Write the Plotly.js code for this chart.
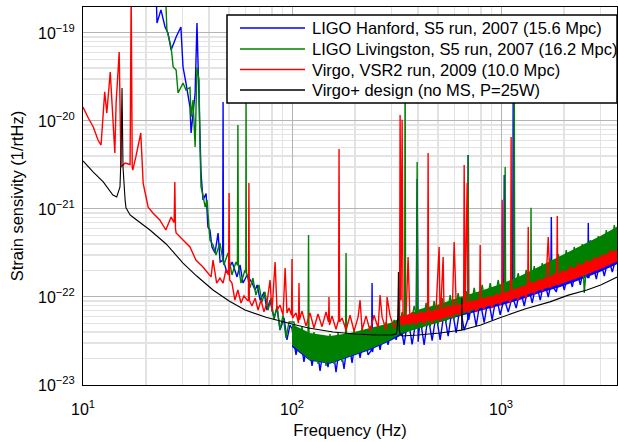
<!DOCTYPE html>
<html><head><meta charset="utf-8">
<script src="https://cdn.plot.ly/plotly-3.0.1.min.js"></script>
<style>html,body{margin:0;padding:0;background:#fff}#chart{width:618px;height:442px}</style>
</head><body><div id="chart"></div>
<script>
// ---- LIGO Hanford, S5 (strain ASD, 1/rtHz) ----
const hanfordFreq = [
 22.3, 22.6, 23.6, 24.7, 25.5, 26.4, 27.9, 29.4, 30.1, 31.1,
 32.5, 32.9, 34.4, 35.1, 35.9, 36.7, 37.5, 38.8, 39.6, 40.5,
 41.4, 42.8, 44.3, 45.3, 46.6, 46.8, 47.0, 48.9, 51.7, 54.6,
 56.4, 58.3, 61.0, 64.4, 66.6, 68.1, 70.4, 73.5, 75.9, 78.5,
 82.0, 84.8, 87.7, 91.6, 94.6, 97.8,
 100, 104.5, 109.2, 114.1, 119.3, 124.7, 130.3, 136.2, 142.3, 148.7,
 155.4, 162.4, 169.8, 177.4, 185.4, 193.8, 202.5, 211.7, 221.2, 231.2,
 240.4, 241.6, 242.8, 252.5, 263.9, 275.8, 288.2, 301.2, 314.8, 329.0,
 343.8, 359.3, 375.5, 392.5, 397.0, 401.5, 410.2, 428.7, 448.0, 468.2,
 489.3, 511.4, 534.5, 558.6, 583.8, 610.1, 637.6, 666.4, 692.7, 696.5,
 700.3, 727.9, 760.7, 795.0, 830.9, 868.3, 907.5, 948.4, 991.2, 1030,
 1036, 1041, 1083, 1137, 1143, 1150, 1182, 1236, 1292, 1350,
 1411, 1474, 1541, 1610, 1683, 1730, 1741, 1752, 1838, 1921,
 2008, 2098, 2193, 2292, 2395, 2503, 2602, 2616, 2630, 2734,
 2858, 2987, 3121, 3262, 3409, 3563, 3650];
const hanfordASD = [
 4e-19, 1.30e-19, 1.83e-19, 1.17e-19, 1.0e-19, 6.4e-20, 9.0e-20, 1.17e-19, 4.1e-20, 2.7e-20,
 1.44e-20, 7.3e-21, 2.08e-20, 1.3e-19, 1.73e-20, 2.57e-21, 1.27e-21, 1.5e-21, 6.25e-22, 5.77e-22,
 3.7e-22, 3.16e-22, 5.33e-22, 2.5e-22, 2.6e-22, 1.64e-20, 2.6e-22, 1.87e-22, 2.5e-22, 1.69e-22,
 2.31e-22, 1.44e-22, 1.78e-22, 1.44e-22, 1.2e-22, 1.37e-22, 9.2e-23, 1.14e-22, 7.1e-23, 9.2e-23,
 5.8e-23, 7.5e-23, 4.2e-23, 5.8e-23, 3.25e-23, 4.8e-23,
 4.4e-23, 2.2e-23, 3.9e-23, 1.83e-23, 3.4e-23, 1.65e-23, 3.2e-23, 1.45e-23, 2.9e-23, 1.6e-23,
 3.25e-23, 1.4e-23, 3.0e-23, 1.52e-23, 3.5e-23, 1.78e-23, 3.6e-23, 2.03e-23, 3.9e-23, 2.2e-23,
 2.5e-23, 1.44e-22, 2.37e-23, 4.3e-23, 2.5e-23, 4.6e-23, 2.85e-23, 4.9e-23, 3.25e-23, 5.2e-23,
 2.85e-23, 5.77e-23, 2.9e-23, 5.5e-23, 2.19e-21, 3.1e-23, 5.8e-23, 2.85e-23, 6.1e-23, 3.2e-23,
 6.4e-23, 3.25e-23, 6.75e-23, 3.6e-23, 7.3e-23, 3.9e-23, 7.9e-23, 4.2e-23, 5.5e-23, 4.11e-21,
 5.5e-23, 8.55e-23, 4.7e-23, 9.0e-23, 5.1e-23, 9.7e-23, 5.5e-23, 1.03e-22, 6.25e-23, 9.2e-23,
 2.43e-21, 9.2e-23, 6.75e-23, 1.05e-22, 1.6e-20, 9.2e-23, 7.5e-23, 1.23e-22, 7.9e-23, 1.33e-22,
 8.55e-23, 1.44e-22, 9.2e-23, 1.56e-22, 1.0e-22, 1.37e-22, 8.1e-22, 1.37e-22, 1.14e-22, 1.83e-22,
 1.2e-22, 1.97e-22, 1.3e-22, 2.14e-22, 1.37e-22, 2.25e-22, 1.64e-22, 6.93e-22, 1.64e-22, 2.5e-22,
 1.6e-22, 2.63e-22, 1.73e-22, 2.77e-22, 1.92e-22, 2.92e-22, 2.25e-22];

// ---- LIGO Livingston, S5 ----
const livingstonFreq = [
 24.7, 25.2, 26.4, 27.0, 27.9, 28.5, 30.1, 31.1, 32.5, 32.9,
 33.6, 34.4, 35.1, 35.9, 36.3, 36.7, 37.5, 38.4, 39.2, 40.5,
 41.9, 43.3, 45.2, 47.2, 49.4, 51.6, 53.9, 54.8, 55.1, 55.4,
 57.0, 59.6, 60.1, 60.3, 60.5, 61.0, 62.9, 65.0, 67.2, 69.5,
 71.8, 74.2, 76.8, 79.4, 82.0, 84.8, 87.6, 90.6, 93.6, 96.8,
 102.2, 106.8, 111.6, 116.7, 119.3, 120.0, 120.6, 121.9, 127.4, 133.2,
 139.2, 145.5, 152.0, 158.9, 166.1, 173.6, 180.4, 181.4, 182.4, 189.6,
 198.1, 207.1, 216.4, 226.2, 236.4, 247.0, 258.2, 269.8, 282.0, 294.7,
 308.0, 321.9, 336.4, 345.7, 347.7, 349.6, 367.4, 383.9, 394.7, 397.0,
 399.0, 419.3, 438.3, 458.0, 478.7, 500.2, 522.8, 546.4, 571.0, 596.8,
 623.7, 651.8, 681.2, 692.7, 696.5, 700.3, 711.9, 744.0, 777.6, 812.6,
 849.3, 887.6, 927.6, 969.4, 1013, 1041, 1047, 1052, 1107, 1150,
 1157, 1163, 1209, 1263, 1320, 1380, 1387, 1392, 1397, 1442,
 1507, 1575, 1646, 1720, 1798, 1879, 1964, 2052, 2145, 2241,
 2342, 2448, 2503, 2559, 2674, 2795, 2921, 3052, 3190, 3334,
 3484, 3641];
const livingstonASD = [
 4e-19, 1.08e-19, 6.9e-20, 4.1e-20, 3.8e-20, 2.08e-20, 2.7e-20, 2.25e-20, 2.4e-20, 1.11e-20,
 1.73e-20, 5.07e-21, 4.1e-20, 2.92e-20, 5.07e-21, 1.78e-21, 1.44e-21, 1.05e-21, 1.27e-21, 4.44e-22,
 3.9e-22, 3.0e-22, 4.1e-22, 2.31e-22, 3.16e-22, 1.78e-22, 2.5e-22, 2.3e-22, 9e-21, 2.3e-22,
 1.44e-22, 2.03e-22, 1.9e-22, 1.6e-20, 1.9e-22, 1.78e-22, 1.27e-22, 1.64e-22, 1.05e-22, 1.37e-22,
 8.77e-23, 1.14e-22, 7.12e-23, 9.7e-23, 5.48e-23, 7.9e-23, 4.22e-23, 6.24e-23, 3.42e-23, 5.2e-23,
 5.2e-23, 2.5e-23, 4.6e-23, 2.1e-23, 3.25e-23, 5.07e-22, 2.85e-23, 1.92e-23, 4.0e-23, 1.74e-23,
 3.7e-23, 1.65e-23, 3.8e-23, 1.74e-23, 3.9e-23, 1.83e-23, 3.7e-23, 3.16e-22, 2.85e-23, 2.1e-23,
 4.2e-23, 2.37e-23, 4.44e-23, 2.5e-23, 4.7e-23, 2.7e-23, 4.9e-23, 2.9e-23, 5.2e-23, 3.4e-23,
 5.48e-23, 3.9e-23, 6.75e-23, 5.5e-23, 5e-20, 5.2e-23, 4.1e-23, 7.9e-23, 6.2e-23, 3.42e-21,
 5.5e-23, 4.44e-23, 8.55e-23, 4.6e-23, 9.0e-23, 4.9e-23, 9.7e-23, 5.2e-23, 1.05e-22, 5.6e-23,
 1.11e-22, 5.9e-23, 1.17e-22, 8.1e-23, 4.11e-21, 7.1e-23, 6.6e-23, 1.27e-22, 7.1e-23, 1.37e-22,
 7.7e-23, 1.44e-22, 8.1e-23, 1.56e-22, 8.7e-23, 1.37e-22, 3.0e-21, 1.2e-22, 9.7e-23, 1.37e-22,
 5e-20, 1.2e-22, 1.87e-22, 1.03e-22, 2.03e-22, 1.11e-22, 1.56e-22, 1.03e-21, 1.37e-22, 2.25e-22,
 1.2e-22, 2.43e-22, 1.3e-22, 2.77e-22, 1.44e-22, 3.08e-22, 1.56e-22, 3.42e-22, 1.73e-22, 3.7e-22,
 1.92e-22, 4.0e-22, 1.11e-22, 2.14e-22, 4.44e-22, 2.31e-22, 4.93e-22, 2.5e-22, 5.77e-22, 2.77e-22,
 6.58e-22, 3.25e-22];

// ---- Virgo, VSR2 ----
const virgoFreq = [
 10, 10.6, 11.2, 11.8, 12.2, 12.7, 13.0, 13.5, 13.8, 14.2,
 14.4, 14.9, 15.2, 15.9, 16.8, 17.0, 17.2, 17.3, 17.9, 18.9,
 19.4, 20.5, 21.6, 23.3, 24.9, 26.4, 27.3, 27.5, 27.7, 27.9,
 30.1, 32.5, 34.7, 37.5, 41.0, 41.9, 43.6, 45.2, 46.8, 48.3,
 49.7, 50.0, 50.3, 51.6, 53.3, 55.1, 57.0, 58.9, 61.0, 61.9,
 62.2, 62.5, 64.3, 66.6, 68.8, 71.1, 73.4, 75.9, 78.5, 80.2,
 83.0, 84.8, 87.6, 90.6, 92.7, 94.6, 96.8, 99.5, 100, 100.6,
 104.5, 107.4, 108.0, 108.6, 111.6, 116.7, 121.9, 127.4, 133.2, 139.2,
 145.5, 149.5, 150.3, 151.1, 155.4, 162.4, 167.0, 167.9, 168.9, 173.6,
 181.4, 189.6, 198.1, 207.1, 211.7, 216.4, 226.2, 236.4, 247.0, 258.2,
 263.9, 269.8, 282.0, 285.0, 294.7, 308.0, 321.9, 327.2, 329.0, 332.6,
 336.4, 340.0, 343.8, 351.5, 359.3, 367.4, 375.5, 392.5, 410.2, 428.7,
 445.5, 448.0, 450.5, 468.2, 489.3, 505.8, 511.4, 528.7, 534.5, 558.6,
 583.8, 596.8, 610.1, 637.6, 662.7, 666.4, 673.8, 688.9, 696.5, 727.9,
 760.7, 791, 795, 799, 830.9, 868.3, 907.5, 948.4, 991.2, 1008,
 1013, 1018, 1059, 1107, 1112, 1118, 1124, 1157, 1209, 1263,
 1320, 1342, 1350, 1357, 1380, 1442, 1507, 1575, 1646, 1683,
 1720, 1798, 1848, 1859, 1869, 1964, 2052, 2145, 2241, 2342,
 2448, 2559, 2674, 2795, 2921, 3052, 3190, 3334, 3484, 3641];
const virgoASD = [
 1.44e-20, 1.08e-20, 8.55e-21, 6.08e-21, 5.33e-21, 2.14e-20, 1.23e-20, 3.6e-20, 1.44e-20, 4.33e-21,
 1.6e-20, 6.08e-20, 3.0e-21, 3.33e-21, 3.2e-21, 3e-19, 3e-21, 2.77e-21, 3.9e-21, 7.3e-21,
 1.97e-21, 1.05e-21, 9.0e-22, 7.5e-22, 5.77e-22, 8.1e-22, 7e-22, 2.03e-21, 6e-22, 5.33e-22,
 4.44e-22, 3.7e-22, 2.63e-22, 2.19e-22, 1.69e-22, 2.63e-22, 1.44e-22, 1.64e-22, 1.44e-22, 2.03e-22,
 1.78e-22, 1.52e-21, 1.56e-22, 1.44e-22, 9.24e-23, 1.2e-22, 8.55e-23, 1.03e-22, 9.24e-23, 9e-23,
 1.97e-21, 9.2e-23, 7.9e-23, 9.7e-23, 7.12e-23, 9.24e-23, 6.8e-23, 8.55e-23, 1.56e-22, 6.8e-23,
 2.5e-22, 7.1e-23, 8.1e-23, 6.24e-23, 2.14e-22, 6.6e-23, 7.5e-23, 6.2e-23, 2.7e-22, 5.77e-23,
 6.6e-23, 5.06e-23, 1.44e-22, 5.5e-23, 6.9e-23, 4.7e-23, 6.6e-23, 4.44e-23, 6.4e-23, 4.6e-23,
 6.75e-23, 5.2e-23, 1.0e-22, 4.8e-23, 6.1e-23, 4.3e-23, 5.48e-23, 4.81e-21, 5.2e-23, 5.77e-23,
 4.22e-23, 6.2e-23, 4.1e-23, 5.9e-23, 9.2e-23, 4.22e-23, 6.1e-23, 4.1e-23, 6.2e-23, 4.44e-23,
 1.05e-22, 5.9e-23, 4.22e-23, 1.0e-22, 6.1e-23, 4.44e-23, 5.48e-23, 5.77e-23, 1.17e-20, 9.2e-23,
 1.03e-20, 5.48e-23, 4.7e-23, 6.2e-23, 2.85e-22, 4.8e-23, 6.75e-23, 4.8e-23, 6.9e-23, 4.9e-23,
 6.75e-23, 4.33e-21, 5.77e-23, 5.06e-23, 7.5e-23, 3.7e-22, 5.2e-23, 2.85e-22, 5.77e-23, 8.1e-23,
 5.77e-23, 4.22e-22, 8.55e-23, 6.1e-23, 8.55e-23, 3.16e-21, 8.1e-23, 1.97e-21, 6.6e-23, 9.2e-23,
 6.75e-23, 9.2e-23, 3.9e-22, 8.1e-23, 7.3e-23, 1.03e-22, 7.5e-23, 1.11e-22, 8.1e-23, 1.05e-22,
 1.27e-21, 9.2e-23, 1.14e-22, 8.55e-23, 1.05e-22, 6.58e-21, 9.2e-23, 1.2e-22, 9.2e-23, 1.33e-22,
 9.7e-23, 1.27e-22, 6.25e-22, 1.14e-22, 1.5e-22, 1.08e-22, 1.6e-22, 1.17e-22, 1.73e-22, 4.81e-22,
 1.27e-22, 1.87e-22, 1.56e-22, 8.3e-22, 1.37e-22, 2.03e-22, 1.5e-22, 2.25e-22, 1.6e-22, 2.43e-22,
 1.73e-22, 2.63e-22, 1.87e-22, 2.85e-22, 2.03e-22, 3.08e-22, 2.25e-22, 3.42e-22, 2.5e-22, 3.8e-22];

// ---- Virgo+ design (no MS, P=25W) ----
const designFreq = [
 10, 11.2, 12.5, 13.9, 14.5, 15.03, 15.2, 15.37, 15.54, 15.9,
 16.06, 16.8, 17.3, 20.9, 25, 30.1, 35, 41.9, 50, 59.6,
 75, 101, 120, 157, 200, 250, 301, 315, 318.3, 320.5,
 322, 323, 324.5, 326, 329, 336, 400, 511, 600, 648,
 650, 652, 800, 988, 1300, 1714, 2100, 2576, 3000, 3600];
const designASD = [
 3.51e-21, 2.63e-21, 2.03e-21, 1.44e-21, 1.37e-21, 1.78e-21, 3.9e-21, 2.37e-20, 3.0e-21, 1.27e-21,
 1.03e-21, 8.55e-22, 8.1e-22, 5.77e-22, 4.0e-22, 2.43e-22, 1.73e-22, 1.2e-22, 9.0e-23, 7.1e-23,
 5.9e-23, 4.9e-23, 4.44e-23, 4.0e-23, 3.8e-23, 3.7e-23, 3.7e-23, 3.8e-23, 4.3e-23, 6e-23,
 1.0e-22, 1.92e-22, 6e-23, 4.2e-23, 3.8e-23, 3.6e-23, 3.7e-23, 3.9e-23, 4.1e-23, 4.2e-23,
 9.7e-23, 4.2e-23, 4.8e-23, 5.8e-23, 7.3e-23, 8.8e-23, 1.05e-22, 1.2e-22, 1.37e-22, 1.69e-22];

// ---- dense noise band envelopes ----
const bandFreq = [100, 121.9, 152, 189.6, 236.4, 294.7, 329, 410.2, 511.4, 637.6, 795, 991.2, 1235.8, 1540.8, 1921.1, 2395.3, 2986.6, 3641];
const hanfordBandHi = [3.7e-23, 2.85e-23, 2.63e-23, 2.85e-23, 3.42e-23, 4.22e-23, 4.7e-23, 5.48e-23, 6.1e-23, 7.1e-23, 8.3e-23, 9.7e-23, 1.14e-22, 1.37e-22, 1.64e-22, 1.97e-22, 2.37e-22, 2.77e-22];
const hanfordBandLo = [2.7e-23, 1.88e-23, 1.74e-23, 2.08e-23, 2.5e-23, 3.16e-23, 3.6e-23, 4.9e-23, 5.2e-23, 6.1e-23, 7.0e-23, 8.0e-23, 9.3e-23, 1.12e-22, 1.3e-22, 1.57e-22, 1.93e-22, 2.39e-22];
const livingstonBandHi = [4.9e-23, 3.9e-23, 3.6e-23, 3.9e-23, 4.44e-23, 5.06e-23, 5.77e-23, 7.3e-23, 8.3e-23, 1.0e-22, 1.17e-22, 1.4e-22, 1.73e-22, 2.25e-22, 2.92e-22, 3.8e-22, 4.93e-22, 6.4e-22];
const livingstonBandLo = [2.85e-23, 1.92e-23, 1.78e-23, 2.14e-23, 2.57e-23, 3.25e-23, 3.8e-23, 4.44e-23, 5.2e-23, 6.24e-23, 7.5e-23, 9.0e-23, 1.08e-22, 1.33e-22, 1.64e-22, 2.03e-22, 2.5e-22, 3.08e-22];
const virgoBandFreq = [329, 410.2, 511.4, 637.6, 795, 991.2, 1235.8, 1540.8, 1921.1, 2395.3, 2986.6, 3641];
const virgoBandHi = [6.1e-23, 6.58e-23, 7.3e-23, 8.3e-23, 9.5e-23, 1.08e-22, 1.3e-22, 1.56e-22, 1.87e-22, 2.31e-22, 2.85e-22, 3.5e-22];
const virgoBandLo = [4.8e-23, 5.2e-23, 5.6e-23, 6.58e-23, 7.5e-23, 8.55e-23, 1.0e-22, 1.2e-22, 1.4e-22, 1.69e-22, 2.08e-22, 2.57e-22];

// ---- series names and axis ticks ----
const seriesNames = [
 'LIGO Hanford, S5 run, 2007 (15.6 Mpc)',
 'LIGO Livingston, S5 run, 2007 (16.2 Mpc)',
 'Virgo, VSR2 run, 2009 (10.0 Mpc)',
 'Virgo+ design (no MS, P=25W)'];
const xTickVals = [10, 100, 1000];
const xTickText = ['10<sup>1</sup>', '10<sup>2</sup>', '10<sup>3</sup>'];
const yTickVals = [1e-23, 1e-22, 1e-21, 1e-20, 1e-19];
const yTickText = ['10<sup>\u221223</sup>', '10<sup>\u221222</sup>', '10<sup>\u221221</sup>', '10<sup>\u221220</sup>', '10<sup>\u221219</sup>'];
const xMinor = [20,30,40,50,60,70,80,90,200,300,400,500,600,700,800,900,2000,3000];
const yMinor = [2e-23,3e-23,4e-23,5e-23,6e-23,7e-23,8e-23,9e-23,2e-22,3e-22,4e-22,5e-22,6e-22,7e-22,8e-22,9e-22,
 2e-21,3e-21,4e-21,5e-21,6e-21,7e-21,8e-21,9e-21,2e-20,3e-20,4e-20,5e-20,6e-20,7e-20,8e-20,9e-20];

const colors = ['#0000ff', '#008000', '#ff0000', '#000000'];

function band(freq, hi, lo, color) {
  return {x: freq.concat(freq.slice().reverse()), y: hi.concat(lo.slice().reverse()),
    type: 'scatter', mode: 'lines', fill: 'toself', fillcolor: color,
    line: {width: 0, color: color}, hoverinfo: 'skip', showlegend: false};
}
function line(freq, asd, name, color, w) {
  return {x: freq, y: asd, name: name, type: 'scatter', mode: 'lines',
    line: {color: color, width: w, simplify: false}, showlegend: false};
}

const data = [
  band(bandFreq, hanfordBandHi, hanfordBandLo, colors[0]),
  line(hanfordFreq, hanfordASD, seriesNames[0], colors[0], 1.4),
  band(bandFreq, livingstonBandHi, livingstonBandLo, colors[1]),
  line(livingstonFreq, livingstonASD, seriesNames[1], colors[1], 1.4),
  band(virgoBandFreq, virgoBandHi, virgoBandLo, colors[2]),
  line(virgoFreq, virgoASD, seriesNames[2], colors[2], 1.4),
  line(designFreq, designASD, seriesNames[3], colors[3], 1.1)
];

// ---- legend box (drawn in plot-paper coordinates) ----
const plotL = 83, plotR = 617, plotT = 7, plotB = 385;
const px = v => (v - plotL) / (plotR - plotL);
const py = v => 1 - (v - plotT) / (plotB - plotT);
const legendRows = [28, 49, 69.5, 90];
const shapes = [{type: 'rect', xref: 'paper', yref: 'paper', x0: px(227), x1: px(617), y0: py(103), y1: py(15),
  fillcolor: '#fff', line: {color: '#000', width: 1.5}, layer: 'above'}];
const annotations = [];
seriesNames.forEach((name, i) => {
  shapes.push({type: 'line', xref: 'paper', yref: 'paper', x0: px(240), x1: px(305), y0: py(legendRows[i]), y1: py(legendRows[i]),
    line: {color: colors[i], width: 1.5}, layer: 'above'});
  annotations.push({xref: 'paper', yref: 'paper', x: px(310), y: py(legendRows[i]), xanchor: 'left', yanchor: 'middle',
    text: name, showarrow: false, font: {family: 'Liberation Sans, Arial, sans-serif', size: 16.5, color: '#000'}});
});

const font = {family: 'Liberation Sans, Arial, sans-serif', size: 16, color: '#000'};
const titleFont = {family: 'Liberation Sans, Arial, sans-serif', size: 16.5, color: '#000'};
const layout = {
  width: 618, height: 442,
  margin: {l: plotL, r: 618 - plotR, t: plotT, b: 442 - plotB},
  paper_bgcolor: '#fff', plot_bgcolor: '#fff',
  font: font,
  showlegend: false,
  xaxis: {
    type: 'log', range: [1, 3.555],
    tickmode: 'array', tickvals: xTickVals, ticktext: xTickText,
    ticks: '', showline: true, linecolor: '#000', linewidth: 1, mirror: true,
    showgrid: true, gridcolor: '#b4b4b4', gridwidth: 1,
    minor: {tickmode: 'array', tickvals: xMinor, showgrid: true, gridcolor: '#e3e3e3', gridwidth: 1.5, ticks: ''},
    zeroline: false, ticklabelstandoff: 10,
    title: {text: 'Frequency (Hz)', font: titleFont, standoff: 7}
  },
  yaxis: {
    type: 'log', range: [-23, -18.705],
    tickmode: 'array', tickvals: yTickVals, ticktext: yTickText,
    ticks: '', showline: true, linecolor: '#000', linewidth: 1, mirror: true,
    showgrid: true, gridcolor: '#b4b4b4', gridwidth: 1,
    minor: {tickmode: 'array', tickvals: yMinor, showgrid: true, gridcolor: '#e3e3e3', gridwidth: 1.5, ticks: ''},
    zeroline: false, ticklabelstandoff: 4,
    title: {text: 'Strain sensivity (1/rtHz)', font: titleFont, standoff: 10}
  },
  shapes: shapes,
  annotations: annotations
};

Plotly.newPlot('chart', data, layout, {displayModeBar: false, staticPlot: true});
</script>
</body></html>
